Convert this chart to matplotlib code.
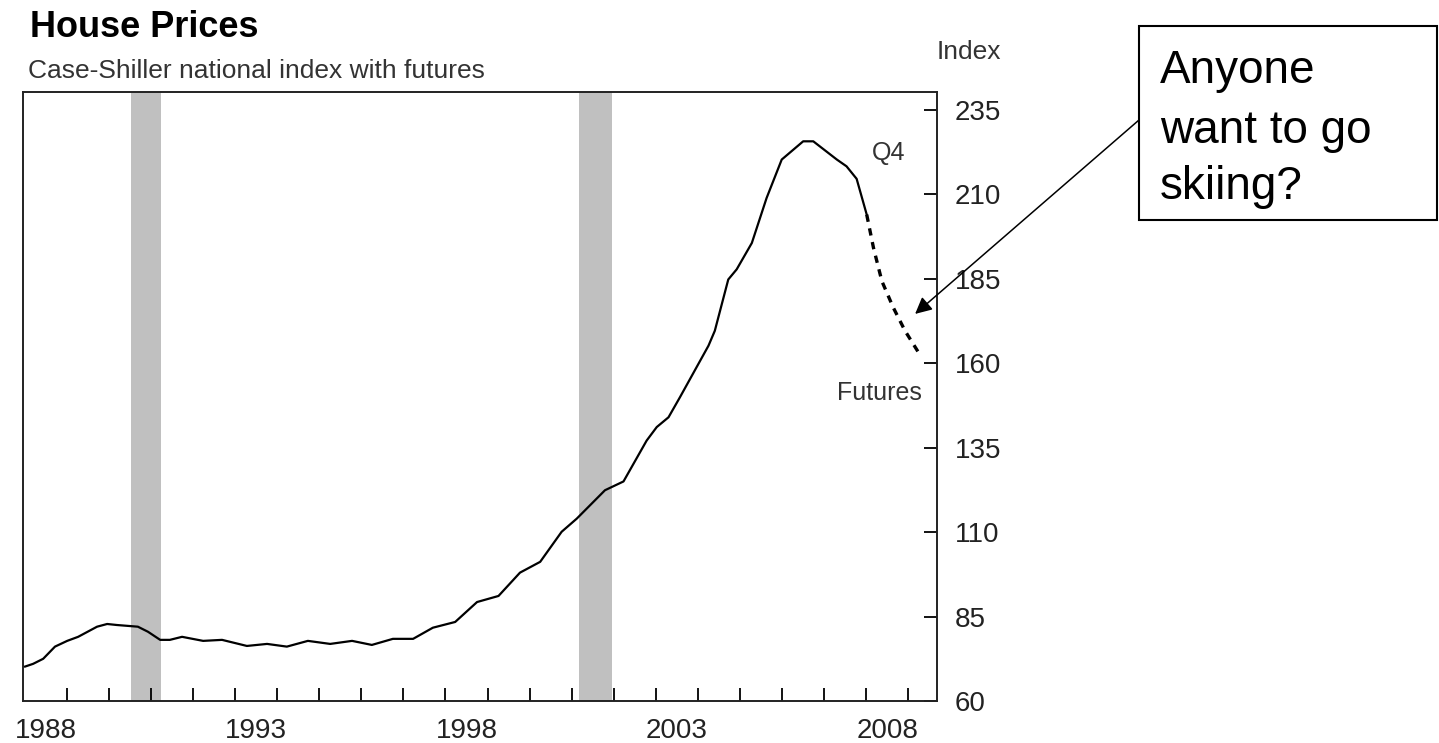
import numpy as np
import matplotlib
matplotlib.use("Agg")
import matplotlib.pyplot as plt
from matplotlib.patches import Rectangle

plt.rcParams["font.family"] = ["Liberation Sans", "DejaVu Sans"]

# Case-Shiller national index
years = [1988.01, 1988.20, 1988.44, 1988.72, 1989.01, 1989.27, 1989.72, 1989.96,
         1990.19, 1990.69, 1990.93, 1991.22, 1991.45, 1991.74, 1992.24, 1992.69,
         1993.28, 1993.76, 1994.23, 1994.73, 1995.26, 1995.78, 1996.25, 1996.75,
         1997.23, 1997.70, 1998.23, 1998.75, 1999.26, 1999.77, 2000.25, 2000.76,
         2001.12, 2001.79, 2002.23, 2002.78, 2003.02, 2003.30, 2003.57, 2004.25,
         2004.40, 2004.72, 2004.92, 2005.28, 2005.63, 2005.99, 2006.50, 2006.74,
         2007.30, 2007.53, 2007.77, 2008.01]
index = [70.2, 71.0, 72.5, 76.1, 77.8, 79.0, 82.0, 82.8,
         82.5, 82.0, 80.5, 78.1, 78.1, 79.0, 77.8, 78.1,
         76.3, 76.9, 76.1, 77.8, 76.9, 77.8, 76.6, 78.4,
         78.4, 81.7, 83.4, 89.3, 91.1, 98.0, 101.2, 110.1,
         114.0, 122.4, 125.0, 137.1, 141.1, 144.0, 149.9, 165.2,
         169.6, 184.8, 187.8, 195.6, 208.9, 220.3, 225.7, 225.7,
         220.3, 218.3, 214.6, 204.0]

# futures path
fut_years = [2008.01, 2008.17, 2008.37, 2008.64, 2008.92, 2009.24]
fut_index = [204.0, 194.2, 184.3, 176.5, 169.6, 163.2]

# recessions
recessions = [(1990.53, 1991.25), (2001.17, 2001.95)]

yticks = [60, 85, 110, 135, 160, 185, 210, 235]
label_years = [1988, 1993, 1998, 2003, 2008]


def main():
    fig = plt.figure(figsize=(14.39, 7.43), dpi=100)
    ax = fig.add_axes([23 / 1439, 1 - 701 / 743, (937 - 23) / 1439, (701 - 92) / 743])

    for start, end in recessions:
        ax.axvspan(start, end, color="#c0c0c0", lw=0, zorder=0)

    ax.plot(years, index, color="black", lw=1.6, zorder=3)
    ax.plot(fut_years, fut_index, color="black", lw=2.4,
            linestyle=(0, (2.2, 2.0)), zorder=3)

    ax.set_xlim(1987.96, 2009.68)
    ax.set_ylim(60, 240.3)

    # year ticks inward on the bottom, labels centred between ticks
    ax.set_xticks(np.arange(1989, 2010))
    ax.set_xticklabels([])
    ax.set_xticks([y + 0.5 for y in label_years], minor=True)
    ax.set_xticklabels([str(y) for y in label_years], minor=True)
    ax.tick_params(axis="x", which="major", direction="in", length=9.5, width=1.3)
    ax.tick_params(axis="x", which="minor", length=0, pad=12, labelsize=20,
                   labelcolor="#222222")

    ax.yaxis.tick_right()
    ax.set_yticks(yticks)
    ax.tick_params(axis="y", direction="in", length=9.5, width=1.3, pad=13, labelsize=20,
                   labelcolor="#222222")

    for sp in ax.spines.values():
        sp.set_linewidth(1.4)
        sp.set_color("#222222")

    ax.text(2008.14, 222.1, "Q4", fontsize=18, color="#333333", ha="left", va="center")
    ax.text(2009.32, 151.3, "Futures", fontsize=18, color="#333333", ha="right", va="center")

    fig.text(30 / 1439, 1 - 37 / 743, "House Prices", fontsize=26, fontweight="bold",
             va="baseline")
    fig.text(28 / 1439, 1 - 78 / 743, "Case-Shiller national index with futures",
             fontsize=19, color="#333333", va="baseline")
    fig.text(937 / 1439, 1 - 59 / 743, "Index", fontsize=19, color="#333333", va="baseline")

    # call-out box
    box = Rectangle((1139 / 1439, 1 - 220 / 743), (1437 - 1139) / 1439, (220 - 26) / 743,
                    transform=fig.transFigure, fill=False, lw=1.5, ec="black")
    fig.patches.append(box)
    fig.text(1160 / 1439, 1 - 83 / 743, "Anyone", fontsize=33, va="baseline")
    fig.text(1160 / 1439, 1 - 143 / 743, "want to go", fontsize=33, va="baseline")
    fig.text(1160 / 1439, 1 - 199 / 743, "skiing?", fontsize=33, va="baseline")

    ax.annotate("", xy=(2009.16, 174.6), xycoords="data",
                xytext=(1139 / 1439, 1 - 120 / 743), textcoords="figure fraction",
                arrowprops=dict(arrowstyle="-|>", color="black", lw=1.1,
                                mutation_scale=25, shrinkA=0, shrinkB=0),
                annotation_clip=False)

    fig.savefig("out.png", dpi=100)


if __name__ == "__main__":
    main()
